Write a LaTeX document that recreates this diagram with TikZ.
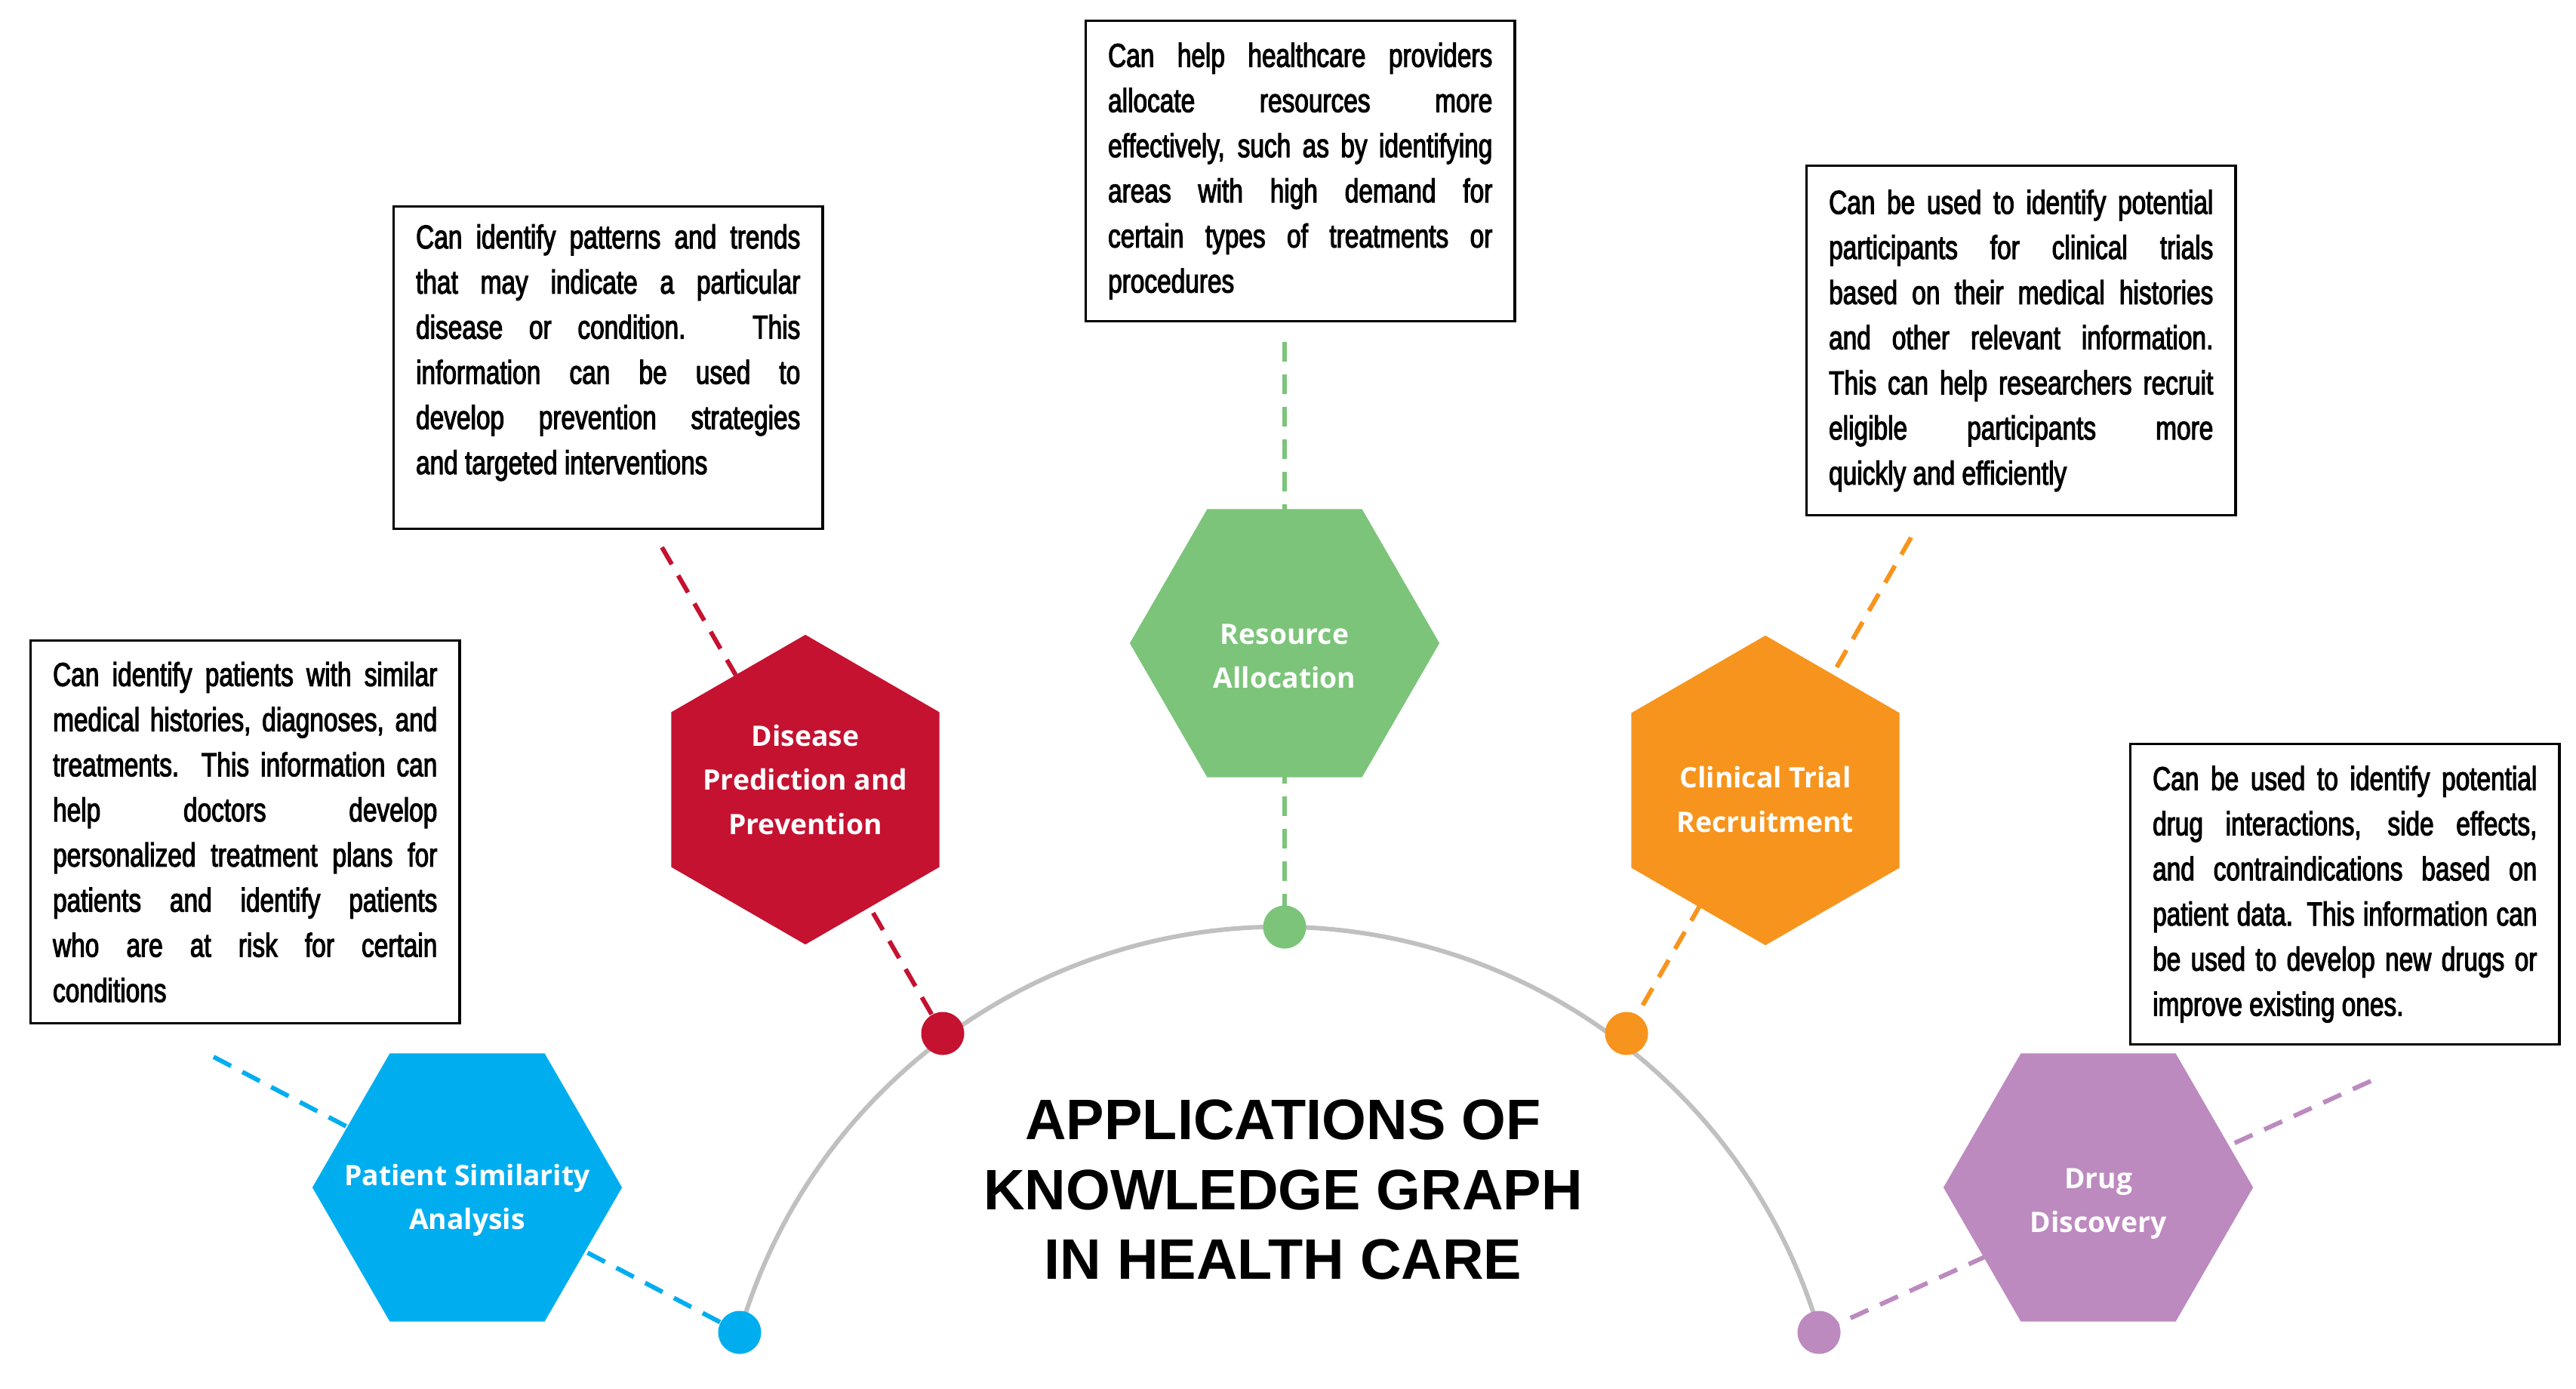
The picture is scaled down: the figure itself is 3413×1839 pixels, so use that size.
\documentclass[tikz,border=0pt]{standalone}
\usepackage{fontspec}
\usepackage{xcolor}
\usepackage{tikz}
\usetikzlibrary{positioning,shapes.geometric,backgrounds}
\newfontfamily\notefont[FakeStretch=0.76,FakeBold=2.5]{Liberation Sans}
\newfontfamily\hexfont{Open Sans}
\newfontfamily\titlefont{Liberation Sans}
\definecolor{kgblue}{HTML}{00AEEF}
\definecolor{kgred}{HTML}{C41230}
\definecolor{kggreen}{HTML}{7CC47A}
\definecolor{kgorange}{HTML}{F7941D}
\definecolor{kgpurple}{HTML}{BC8ABF}
\definecolor{kggrey}{HTML}{C0C0C0}

\begin{document}
\begin{tikzpicture}[
        x=0.01cm, y=-0.01cm,
        note/.style={draw, line width=0.9pt, anchor=north west,
                     text width=5.09cm, inner xsep=0.295cm, inner ysep=0pt,
                     align=justify, font=\notefont\fontsize{12.5}{17}\selectfont},
        hexa/.style={regular polygon, regular polygon sides=6,
                     minimum size=4.1cm, inner sep=0pt},
        pointy/.style={hexa, shape border rotate=30},
        hexlabel/.style={text=white, align=center, yshift=-0.17cm,
                     font=\hexfont\bfseries\fontsize{10.6}{16.5}\selectfont},
        joint/.style={circle, minimum size=0.57cm, inner sep=0pt},
        link/.style={dash pattern=on 0.26cm off 0.17cm, line width=1.7pt},
        rim/.style={kggrey, line width=1.7pt}
    ]
    \useasboundingbox (0,0) rectangle (3413,1839);

    \node[note, minimum height=5.07cm] (psnote) at (39,847) {Can identify patients with similar\linebreak
        medical histories, diagnoses, and\linebreak treatments. This information can\linebreak
        help doctors develop\linebreak personalized treatment plans for\linebreak
        patients and identify patients\linebreak who are at risk for certain\linebreak conditions};
    \node[note, minimum height=4.27cm] (dpnote) at (520,272) {Can identify patterns and trends\linebreak
        that may indicate a particular\linebreak disease or condition. This\linebreak
        information can be used to\linebreak develop prevention strategies\linebreak
        and targeted interventions\par\vspace{0.4cm}\hrule height 0pt};
    \node[note, minimum height=3.98cm] (ranote) at (1437,26) {Can help healthcare providers\linebreak
        allocate resources more\linebreak effectively, such as by identifying\linebreak
        areas with high demand for\linebreak certain types of treatments or\linebreak procedures};
    \node[note, minimum height=4.63cm] (ctnote) at (2392,218) {Can be used to identify potential\linebreak
        participants for clinical trials\linebreak based on their medical histories\linebreak
        and other relevant information.\linebreak This can help researchers recruit\linebreak
        eligible participants more\linebreak quickly and efficiently};
    \node[note, minimum height=3.98cm] (ddnote) at (2821,984) {Can be used to identify potential\linebreak
        drug interactions, side effects,\linebreak and contraindications based on\linebreak
        patient data. This information can\linebreak be used to develop new drugs or\linebreak
        improve existing ones.};

    \node[hexa, fill=kgblue, label={[hexlabel]center:Patient Similarity\\Analysis}] (ps) at (619,1573) {};
    \node[pointy, fill=kgred, label={[hexlabel, yshift=0.3cm]center:Disease\\Prediction and\\Prevention}] (dp) at (1067,1046) {};
    \node[hexa, fill=kggreen, label={[hexlabel]center:Resource\\Allocation}] (ra) at (1702,852) {};
    \node[pointy, fill=kgorange, label={[hexlabel, yshift=0.05cm]center:Clinical Trial\\Recruitment}] (ct) at (2339,1047) {};
    \node[hexa, fill=kgpurple, label={[hexlabel, yshift=-0.05cm]center:Drug\\Discovery}] (dd) at (2780,1573) {};

    \node[joint, fill=kgblue] (psdot) at (980,1765) {};
    \node[joint, fill=kgred] (dpdot) at (1249,1369) {};
    \node[joint, fill=kggreen] (radot) at (1702,1228) {};
    \node[joint, fill=kgorange] (ctdot) at (2155,1369) {};
    \node[joint, fill=kgpurple] (dddot) at (2410,1765) {};

    \coordinate (pstip) at (283,1400);
    \coordinate (dptip) at (877,725);
    \coordinate (ratip) at (1702,453);
    \coordinate (cttip) at (2532,712);
    \coordinate (ddtip) at (3141,1432);

    \node[font=\titlefont\bfseries\fontsize{21.5}{26.2}\selectfont, align=center] (title) at (1700,1576)
        {APPLICATIONS OF\\KNOWLEDGE GRAPH\\IN HEALTH CARE};

    \begin{scope}[on background layer]
        \draw[rim] (psdot.center) arc[start angle=163.8, end angle=16.2, radius=7.445cm];
        \draw[link, kgblue]   (pstip) -- (psdot.center);
        \draw[link, kgred]    (dptip) -- (dpdot.center);
        \draw[link, kggreen]  (ratip) -- (radot.center);
        \draw[link, kgorange] (cttip) -- (ctdot.center);
        \draw[link, kgpurple] (ddtip) -- (dddot.center);
    \end{scope}
\end{tikzpicture}
\end{document}
